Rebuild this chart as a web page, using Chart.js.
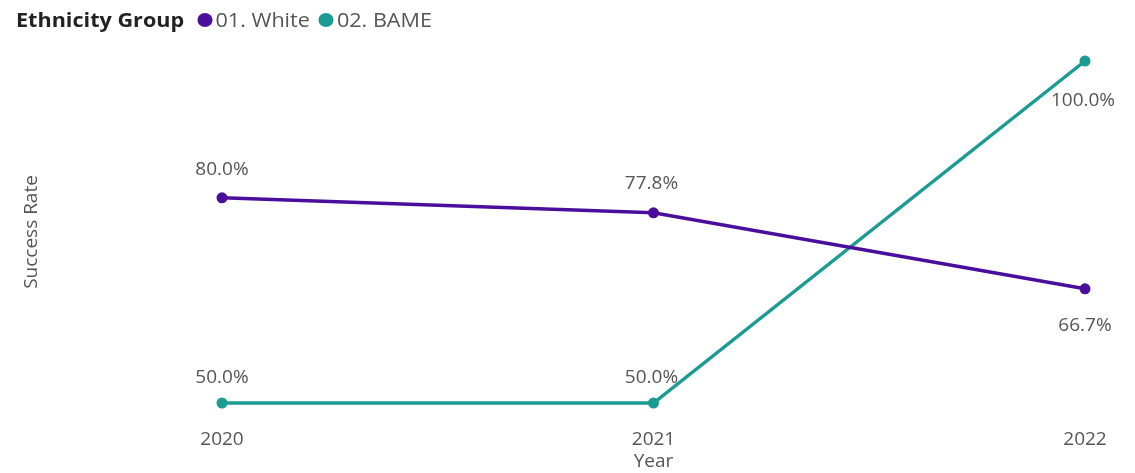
<!DOCTYPE html>
<html lang="en">
<head>
    <meta charset="UTF-8">
    <title>Success Rate by Ethnicity Group</title>
    <script src="https://cdn.jsdelivr.net/npm/chart.js"></script>
    <style>
        html, body { margin: 0; padding: 0; background: #fff; }
        .wrap { position: relative; width: 1135px; height: 473px; }
        .legend {
            position: absolute; left: 16px; top: 6px;
            font-family: "Open Sans", "Noto Sans", sans-serif; font-size: 20px;
            color: #555; display: flex; align-items: center; white-space: nowrap;
            transform: scaleX(1.08); transform-origin: left center;
        }
        .legend b { color: #222; margin-right: 12px; }
        .legend .dot { width: 14px; height: 14px; border-radius: 50%; display: inline-block; margin-right: 3px; }
        .legend .item { display: flex; align-items: center; margin-right: 8px; }
    </style>
</head>
<body>
    <div class="wrap">
        <canvas id="chart" width="1135" height="473"></canvas>
        <div class="legend" id="legend"><b>Ethnicity Group</b></div>
    </div>

    <script>
        const years = ["2020", "2021", "2022"];
        const seriesNames = ["01. White", "02. BAME"];
        const whiteRate = [80.0, 77.8, 66.7];
        const bameRate = [50.0, 50.0, 100.0];
        const colors = ["#4B0E9C", "#1A9B94"];

        // label offsets (px) relative to each point, per series
        const labelOffsets = [
            [[0, -28], [-2, -29], [0, 37]],
            [[0, -25], [-2, -25], [-2, 40]]
        ];

        const legendEl = document.getElementById("legend");
        seriesNames.forEach((name, i) => {
            const item = document.createElement("span");
            item.className = "item";
            item.innerHTML = `<span class="dot" style="background:${colors[i]}"></span>${name}`;
            legendEl.appendChild(item);
        });

        const valueLabels = {
            id: "valueLabels",
            afterDatasetsDraw(chart) {
                const ctx = chart.ctx;
                ctx.save();
                ctx.font = '19px "Open Sans", "Noto Sans", sans-serif';
                ctx.fillStyle = "#555";
                ctx.textAlign = "center";
                ctx.textBaseline = "middle";
                chart.data.datasets.forEach((ds, di) => {
                    chart.getDatasetMeta(di).data.forEach((pt, i) => {
                        const off = labelOffsets[di][i];
                        ctx.fillText(ds.data[i].toFixed(1) + "%", pt.x + off[0], pt.y + off[1]);
                    });
                });
                ctx.restore();
            }
        };

        const font = { family: '"Open Sans", "Noto Sans", sans-serif', size: 19 };

        new Chart(document.getElementById("chart"), {
            type: "line",
            data: {
                labels: years,
                datasets: [
                    { label: seriesNames[0], data: whiteRate },
                    { label: seriesNames[1], data: bameRate }
                ].map((d, i) => ({
                    ...d,
                    borderColor: colors[i],
                    backgroundColor: colors[i],
                    pointBackgroundColor: colors[i],
                    borderWidth: 3.5,
                    pointRadius: 5.5,
                    pointBorderWidth: 0,
                    tension: 0,
                    clip: false
                }))
            },
            options: {
                responsive: false,
                animation: false,
                layout: { padding: { top: 61, right: 50, left: 0, bottom: 0 } },
                plugins: { legend: { display: false }, tooltip: { enabled: false } },
                scales: {
                    x: {
                        offset: false,
                        grid: { display: false },
                        border: { display: false },
                        ticks: { color: "#555", font: font, padding: 17 },
                        title: { display: true, text: "Year", color: "#555", font: font, padding: { top: 0, bottom: 0 } },
                        afterFit: (a) => { a.height = 70; }
                    },
                    y: {
                        min: 50,
                        max: 100,
                        grid: { display: false },
                        border: { display: false },
                        ticks: { display: false },
                        title: { display: true, text: "Success Rate", color: "#555", font: font, padding: { top: 20 } },
                        afterFit: (a) => { a.width = 222; }
                    }
                }
            },
            plugins: [valueLabels]
        });
    </script>
</body>
</html>
